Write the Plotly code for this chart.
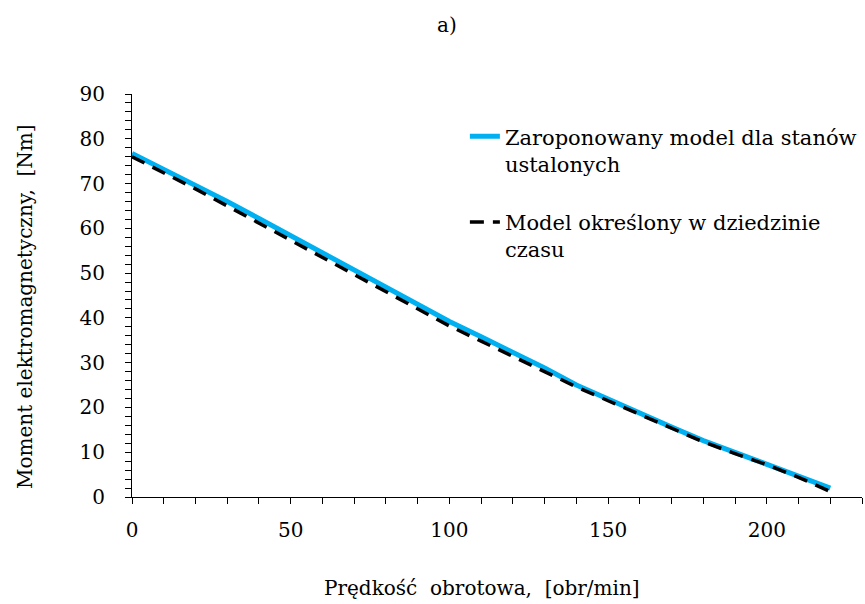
import plotly.graph_objects as go

speed = [0, 10, 20, 30, 40, 50, 60, 70, 80, 90, 100, 110, 120, 130, 140, 150, 160, 170, 180, 190, 200, 210, 220]
torque_steady = [76.7, 73.2, 69.6, 66.0, 62.2, 58.4, 54.6, 50.8, 47.0, 43.0, 39.2, 35.8, 32.4, 28.8, 25.0, 21.8, 18.7, 15.6, 12.6, 10.0, 7.4, 4.7, 2.0]
torque_time = [76.0, 72.5, 68.8, 65.0, 61.2, 57.4, 53.6, 49.7, 46.0, 42.0, 38.2, 34.8, 31.4, 28.0, 24.6, 21.5, 18.4, 15.3, 12.3, 9.7, 7.2, 4.4, 1.2]

name_steady = "Zaroponowany model dla stanów<br>ustalonych"
name_time = "Model określony w dziedzinie<br>czasu"
x_title = "Prędkość  obrotowa,  [obr/min]"
y_title = "Moment elektromagnetyczny,  [Nm]"

FONT = "DejaVu Serif"
FS = 20

fig = go.Figure()
fig.add_trace(go.Scatter(x=speed, y=torque_steady, mode="lines", name=name_steady,
                         legendgroup="a",
                         line=dict(color="#00b0f0", width=5)))
fig.add_trace(go.Scatter(x=speed, y=torque_time, mode="lines", name=name_time,
                         legendgroup="b",
                         line=dict(color="black", width=3.5, dash="14px,9px")))

fig.update_layout(
    width=865, height=604,
    margin=dict(l=132, r=3, t=94, b=107, autoexpand=False),
    paper_bgcolor="white", plot_bgcolor="white",
    font=dict(family=FONT, size=FS, color="black"),
    showlegend=True,
    legend=dict(x=0.456, y=0.945, xanchor="left", yanchor="top", bgcolor="rgba(0,0,0,0)",
                font=dict(family=FONT, size=21, color="black"), valign="top",
                tracegroupgap=28, itemwidth=30),
    annotations=[
        dict(text="a)", x=(447 - 132) / 730, y=(497 - 25) / 403, xref="paper", yref="paper",
             showarrow=False, xanchor="center", yanchor="middle",
             font=dict(family=FONT, size=FS, color="black")),
        dict(text=x_title, x=(482 - 132) / 730, y=-(588 - 497) / 403, xref="paper", yref="paper",
             showarrow=False, xanchor="center", yanchor="middle",
             font=dict(family=FONT, size=FS, color="black")),
        dict(text=y_title, x=-(132 - 25) / 730, y=(497 - 307) / 403, xref="paper", yref="paper",
             showarrow=False, xanchor="center", yanchor="middle", textangle=-90,
             font=dict(family=FONT, size=FS, color="black")),
    ],
)

fig.update_xaxes(range=[0, 230], tickvals=[0, 50, 100, 150, 200], showgrid=False, zeroline=False,
                 showline=True, linecolor="black", linewidth=1, ticks="outside", ticklen=6,
                 tickcolor="black", ticklabelstandoff=9,
                 minor=dict(dtick=10, ticks="outside", ticklen=6, tickcolor="black", showgrid=False),
                 tickfont=dict(family=FONT, size=FS))
fig.update_yaxes(range=[0, 90], dtick=10, showgrid=False, zeroline=False,
                 showline=True, linecolor="black", linewidth=1, ticks="outside", ticklen=6,
                 tickcolor="black", ticklabelstandoff=16,
                 minor=dict(dtick=2, ticks="outside", ticklen=6, tickcolor="black", showgrid=False),
                 tickfont=dict(family=FONT, size=FS))

fig.write_html("out.html")
